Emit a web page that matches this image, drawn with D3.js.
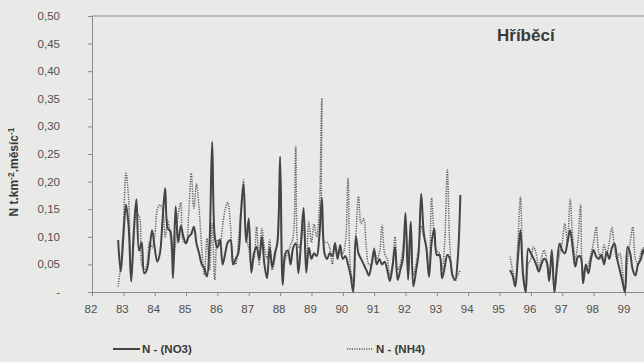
<!DOCTYPE html>
<html>
<head>
<meta charset="utf-8">
<script src="https://cdn.jsdelivr.net/npm/d3@7"></script>
<style>
  body { margin: 0; background: #e9e9e7; }
  svg { display: block; font-family: "Liberation Sans", Arial, sans-serif; }
</style>
</head>
<body>
<svg id="chart" width="644" height="362"></svg>
<script>
// monthly values, segment 1 starts Nov 1982, segment 2 starts May 1995
const seg1Start = 82 + 10 / 12;
const seg2Start = 95 + 4 / 12;

const no3Seg1 = [
  0.094, 0.037, 0.10, 0.158, 0.12, 0.019, 0.11, 0.168, 0.075, 0.09,
  0.034, 0.04, 0.075, 0.112, 0.08, 0.055, 0.07, 0.13, 0.188, 0.115,
  0.11, 0.025, 0.155, 0.09, 0.12, 0.10, 0.088, 0.10, 0.105, 0.118,
  0.088, 0.07, 0.05, 0.043, 0.028, 0.09, 0.272, 0.10, 0.08, 0.095,
  0.05, 0.07, 0.09, 0.094, 0.05, 0.06, 0.07, 0.14, 0.195, 0.09,
  0.133, 0.035, 0.07, 0.082, 0.06, 0.10, 0.05, 0.025, 0.08, 0.045,
  0.07, 0.09, 0.245, 0.013, 0.07, 0.075, 0.05, 0.08, 0.088, 0.034,
  0.09, 0.152, 0.035, 0.08, 0.06, 0.07, 0.065, 0.10, 0.17, 0.07,
  0.06, 0.07, 0.065, 0.088, 0.06, 0.085, 0.06, 0.065, 0.05, 0.03,
  0.0, 0.101, 0.07, 0.06, 0.05, 0.04, 0.03, 0.05, 0.076, 0.05,
  0.06, 0.05, 0.055, 0.04, 0.02, 0.045, 0.082, 0.022, 0.04, 0.06,
  0.143, 0.022, 0.127, 0.01, 0.037, 0.07, 0.178, 0.106, 0.08, 0.028,
  0.09, 0.115, 0.067, 0.067, 0.025, 0.045, 0.067, 0.06, 0.03, 0.022,
  0.06, 0.176
];

const nh4Seg1 = [
  0.01, 0.05, 0.12, 0.215, 0.17, 0.03, 0.09, 0.14, 0.138, 0.05,
  0.04, 0.05, 0.09, 0.08, 0.10, 0.149, 0.158, 0.15, 0.10, 0.13,
  0.10, 0.05, 0.09, 0.14, 0.162, 0.09, 0.09, 0.14, 0.215, 0.152,
  0.196, 0.15, 0.08, 0.031, 0.097, 0.04, 0.124, 0.022, 0.095, 0.085,
  0.12, 0.15, 0.162, 0.12, 0.06, 0.05, 0.09, 0.15, 0.203, 0.10,
  0.08, 0.05, 0.06, 0.118, 0.05, 0.115, 0.08, 0.06, 0.094, 0.04,
  0.06, 0.10, 0.20, 0.03, 0.06, 0.07, 0.085, 0.10, 0.264, 0.08,
  0.09, 0.12, 0.05, 0.127, 0.09, 0.123, 0.10, 0.15, 0.351, 0.09,
  0.09, 0.08, 0.05, 0.09, 0.07, 0.07, 0.07, 0.09, 0.206, 0.04,
  0.02, 0.10, 0.173, 0.124, 0.133, 0.08, 0.05, 0.05, 0.08, 0.06,
  0.07, 0.121, 0.07, 0.06, 0.03, 0.05, 0.10, 0.04, 0.05, 0.08,
  0.124, 0.05, 0.127, 0.03, 0.05, 0.08, 0.12, 0.10, 0.08, 0.028,
  0.17, 0.10, 0.075, 0.07, 0.04, 0.09, 0.221, 0.08, 0.03, 0.02,
  0.03, 0.04
];

const no3Seg2 = [
  0.04, 0.03, 0.01, 0.06, 0.112, 0.03, 0.0, 0.079, 0.07, 0.061,
  0.05, 0.037, 0.05, 0.06, 0.055, 0.02, 0.076, 0.0, 0.05, 0.088,
  0.075, 0.07, 0.09, 0.112, 0.08, 0.046, 0.064, 0.064, 0.016, 0.05,
  0.034, 0.06, 0.076, 0.064, 0.06, 0.068, 0.05, 0.073, 0.06, 0.08,
  0.088, 0.06, 0.04, 0.02, 0.0, 0.082, 0.07, 0.04, 0.03, 0.05,
  0.058, 0.076, 0.06, 0.05
];

const nh4Seg2 = [
  0.064, 0.04, 0.02, 0.09, 0.172, 0.04, 0.0, 0.05, 0.06, 0.082,
  0.07, 0.045, 0.06, 0.076, 0.06, 0.03, 0.06, 0.0, 0.04, 0.07,
  0.09, 0.124, 0.09, 0.168, 0.10, 0.06, 0.09, 0.158, 0.03, 0.04,
  0.05, 0.07, 0.09, 0.118, 0.07, 0.06, 0.085, 0.07, 0.09, 0.117,
  0.08, 0.06, 0.07, 0.04, 0.0, 0.06, 0.09, 0.118, 0.06, 0.05,
  0.07, 0.08, 0.07, 0.06
];

const yTicks = [0, 0.05, 0.10, 0.15, 0.20, 0.25, 0.30, 0.35, 0.40, 0.45, 0.50];
const xTicks = d3.range(82, 101);
const title = "Hříběcí";
const seriesNames = ["N - (NO3)", "N - (NH4)"];

const svg = d3.select("#chart");
const plotLeft = 92, plotTop = 16, plotBottom = 292;

const x = d3.scaleLinear().domain([82, 100]).range([plotLeft, plotLeft + 18 * 31.35]);
const y = d3.scaleLinear().domain([0, 0.5]).range([plotBottom, plotTop]);

function toPoints(start, vals) {
  return vals.map((v, i) => [start + i / 12, v]);
}

// frame: top line
svg.append("line")
  .attr("x1", plotLeft).attr("x2", 644)
  .attr("y1", plotTop).attr("y2", plotTop)
  .attr("stroke", "#8a8a8a");

// y axis
const yAxis = svg.append("g")
  .attr("transform", `translate(${plotLeft},0)`)
  .call(d3.axisLeft(y).tickValues(yTicks).tickSize(4).tickFormat(() => ""));
yAxis.select(".domain").attr("stroke", "#8a8a8a");
yAxis.selectAll(".tick line").attr("stroke", "#8a8a8a");

svg.append("g").selectAll("text")
  .data(yTicks)
  .join("text")
  .attr("x", 60)
  .attr("y", (d) => y(d) + 4)
  .attr("text-anchor", "end")
  .attr("font-size", 11.5)
  .attr("fill", "#505050")
  .text((d) => (d === 0 ? "-" : d3.format(".2f")(d).replace(".", ",")));

// x axis
const xAxis = svg.append("g")
  .attr("transform", `translate(0,${plotBottom})`)
  .call(d3.axisBottom(x).tickValues(xTicks).tickSize(4).tickFormat(() => ""));
xAxis.select(".domain").attr("stroke", "#8a8a8a");
xAxis.selectAll(".tick line").attr("stroke", "#8a8a8a");

svg.append("g").selectAll("text")
  .data(xTicks.slice(0, -1))
  .join("text")
  .attr("x", (d) => x(d) - 1)
  .attr("y", 313)
  .attr("text-anchor", "middle")
  .attr("font-size", 11.5)
  .attr("fill", "#505050")
  .text((d) => d);

// lines
const line = d3.line()
  .x((d) => x(d[0]))
  .y((d) => y(d[1]))
  .curve(d3.curveCatmullRom.alpha(0.5));

const plot = svg.append("g");

[toPoints(seg1Start, nh4Seg1), toPoints(seg2Start, nh4Seg2)].forEach((pts) => {
  plot.append("path")
    .attr("d", line(pts))
    .attr("fill", "none")
    .attr("stroke", "#5e5e5e")
    .attr("stroke-width", 1.5)
    .attr("stroke-dasharray", "1.2,1.2");
});

[toPoints(seg1Start, no3Seg1), toPoints(seg2Start, no3Seg2)].forEach((pts) => {
  plot.append("path")
    .attr("d", line(pts))
    .attr("fill", "none")
    .attr("stroke", "#444")
    .attr("stroke-width", 2);
});

// title
svg.append("text")
  .attr("x", 497)
  .attr("y", 41)
  .attr("font-size", 17)
  .attr("font-weight", "bold")
  .attr("fill", "#3a3a3a")
  .text(title);

// y axis title
const yt = svg.append("text")
  .attr("transform", "translate(18,172) rotate(-90)")
  .attr("text-anchor", "middle")
  .attr("font-size", 12)
  .attr("font-weight", "bold")
  .attr("fill", "#3a3a3a");
yt.append("tspan").text("N t.km");
yt.append("tspan").attr("dy", -4).attr("font-size", 8.5).text("-2");
yt.append("tspan").attr("dy", 4).text(".měsíc");
yt.append("tspan").attr("dy", -4).attr("font-size", 8.5).text("-1");

// legend
const legend = svg.append("g");
legend.append("line")
  .attr("x1", 113).attr("x2", 140)
  .attr("y1", 349).attr("y2", 349)
  .attr("stroke", "#444").attr("stroke-width", 2);
legend.append("text")
  .attr("x", 142).attr("y", 353)
  .attr("font-size", 11.5).attr("font-weight", "bold").attr("fill", "#3a3a3a")
  .text(seriesNames[0]);
legend.append("line")
  .attr("x1", 347).attr("x2", 373)
  .attr("y1", 349).attr("y2", 349)
  .attr("stroke", "#5e5e5e").attr("stroke-width", 1.5)
  .attr("stroke-dasharray", "1.2,1.2");
legend.append("text")
  .attr("x", 376).attr("y", 353)
  .attr("font-size", 11.5).attr("font-weight", "bold").attr("fill", "#3a3a3a")
  .text(seriesNames[1]);
</script>
</body>
</html>
